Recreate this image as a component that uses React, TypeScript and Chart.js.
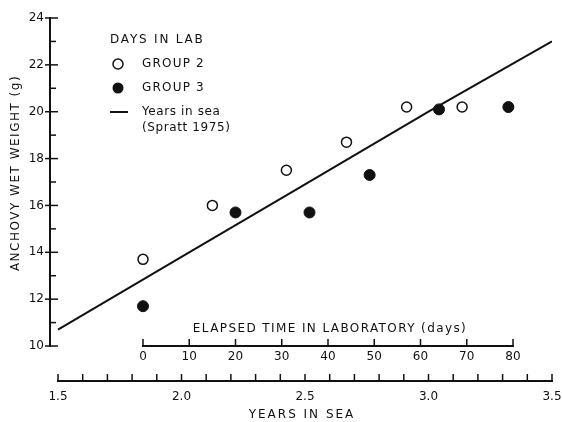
import { useEffect, useRef } from 'react';
import { Chart, registerables } from 'chart.js';

Chart.register(...registerables);

// ---- data ----
const groupTwoDays = [0, 15, 31, 44, 57, 69];
const groupTwoWeight = [13.7, 16.0, 17.5, 18.7, 20.2, 20.2];
const groupThreeDays = [0, 20, 36, 49, 64, 79];
const groupThreeWeight = [11.7, 15.7, 15.7, 17.3, 20.1, 20.2];
const sprattYears = [1.5, 2.0, 2.5, 3.0, 3.5];
const sprattWeight = [10.7, 13.8, 16.9, 20.0, 23.0];

const weightTicks = [10, 12, 14, 16, 18, 20, 22, 24];
const weightMinorTicks = [11, 13, 15, 17, 19, 21, 23];
const yearTicks = [1.5, 2.0, 2.5, 3.0, 3.5];
const yearMinorTicks = [1.6, 1.7, 1.8, 1.9, 2.1, 2.2, 2.3, 2.4, 2.6, 2.7, 2.8, 2.9, 3.1, 3.2, 3.3, 3.4];
const dayTicks = [0, 10, 20, 30, 40, 50, 60, 70, 80];

const yTitle = 'ANCHOVY WET WEIGHT (g)';
const xTitle = 'YEARS IN SEA';
const daysTitle = 'ELAPSED TIME IN LABORATORY (days)';
const legendTitle = 'DAYS IN LAB';
const legendGroup2 = 'GROUP 2';
const legendGroup3 = 'GROUP 3';
const legendLine1 = 'Years in sea';
const legendLine2 = '(Spratt 1975)';

const FONT = 'DejaVu Sans';
const INK = '#111';

const zeroPad = (s: any) => {
  s.paddingLeft = 0;
  s.paddingRight = 0;
  s.paddingTop = 0;
  s.paddingBottom = 0;
};

const axesPlugin = {
  id: 'paperAxes',
  afterDraw(chart: any) {
    const ctx = chart.ctx as CanvasRenderingContext2D;
    const { x, y, days } = chart.scales;
    const area = chart.chartArea;
    ctx.save();
    ctx.strokeStyle = INK;
    ctx.fillStyle = INK;
    ctx.lineCap = 'butt';

    // y axis
    const ax = Math.round(area.left);
    ctx.lineWidth = 2;
    ctx.beginPath();
    ctx.moveTo(ax, y.getPixelForValue(10) + 1);
    ctx.lineTo(ax, y.getPixelForValue(24) - 1);
    ctx.stroke();
    ctx.lineWidth = 1.5;
    weightTicks.forEach((v) => {
      const py = y.getPixelForValue(v);
      ctx.beginPath();
      ctx.moveTo(ax - 5, py);
      ctx.lineTo(ax + 8, py);
      ctx.stroke();
    });
    weightMinorTicks.forEach((v) => {
      const py = y.getPixelForValue(v);
      ctx.beginPath();
      ctx.moveTo(ax, py);
      ctx.lineTo(ax + 6, py);
      ctx.stroke();
    });

    // years axis
    const by = area.bottom;
    ctx.lineWidth = 2;
    ctx.beginPath();
    ctx.moveTo(x.getPixelForValue(1.5) - 1, by);
    ctx.lineTo(x.getPixelForValue(3.5) + 1, by);
    ctx.stroke();
    ctx.lineWidth = 1.5;
    [...yearTicks, ...yearMinorTicks].forEach((v) => {
      const px = x.getPixelForValue(v);
      ctx.beginPath();
      ctx.moveTo(px, by);
      ctx.lineTo(px, by - 7);
      ctx.stroke();
    });

    // days axis
    const dy = y.getPixelForValue(10);
    ctx.lineWidth = 2;
    ctx.beginPath();
    ctx.moveTo(days.getPixelForValue(0) - 1, dy);
    ctx.lineTo(days.getPixelForValue(80) + 1, dy);
    ctx.stroke();
    ctx.lineWidth = 1.5;
    dayTicks.forEach((v) => {
      const px = days.getPixelForValue(v);
      ctx.beginPath();
      ctx.moveTo(px, dy);
      ctx.lineTo(px, dy - 7);
      ctx.stroke();
    });

    // titles
    ctx.font = `12px "${FONT}"`;
    ctx.textBaseline = 'middle';
    ctx.textAlign = 'center';
    (ctx as any).letterSpacing = '2px';
    ctx.fillText(xTitle, 302, 415);
    (ctx as any).letterSpacing = '1.4px';
    ctx.fillText(daysTitle, 330, 329);
    ctx.save();
    ctx.translate(16, 173);
    ctx.rotate(-Math.PI / 2);
    (ctx as any).letterSpacing = '1.5px';
    ctx.fillText(yTitle, 0, 0);
    ctx.restore();

    // legend
    ctx.textAlign = 'left';
    (ctx as any).letterSpacing = '1.8px';
    ctx.fillText(legendTitle, 110, 40);
    (ctx as any).letterSpacing = '1.2px';
    ctx.fillText(legendGroup2, 142, 64);
    ctx.fillText(legendGroup3, 142, 88);
    (ctx as any).letterSpacing = '0.6px';
    ctx.fillText(legendLine1, 142, 112);
    ctx.fillText(legendLine2, 142, 128);
    ctx.lineWidth = 1.5;
    ctx.beginPath();
    ctx.arc(118, 64, 5, 0, Math.PI * 2);
    ctx.fillStyle = '#fff';
    ctx.fill();
    ctx.stroke();
    ctx.fillStyle = INK;
    ctx.beginPath();
    ctx.arc(118, 88, 5.5, 0, Math.PI * 2);
    ctx.fill();
    ctx.lineWidth = 2;
    ctx.beginPath();
    ctx.moveTo(110, 112);
    ctx.lineTo(128, 112);
    ctx.stroke();

    ctx.restore();
  },
};

export default function App() {
  const ref = useRef<HTMLCanvasElement | null>(null);

  useEffect(() => {
    document.body.style.margin = '0';
    const canvas = ref.current;
    if (!canvas) return;
    const tickFont = { family: FONT, size: 12 };
    const chart = new Chart(canvas, {
      type: 'scatter',
      data: {
        datasets: [
          {
            label: legendLine1,
            data: sprattYears.map((v, i) => ({ x: v, y: sprattWeight[i] })),
            xAxisID: 'x',
            yAxisID: 'y',
            showLine: true,
            borderColor: INK,
            borderWidth: 2,
            pointRadius: 0,
            fill: false,
            order: 2,
          },
          {
            label: legendGroup2,
            data: groupTwoDays.map((v, i) => ({ x: v, y: groupTwoWeight[i] })),
            xAxisID: 'days',
            yAxisID: 'y',
            backgroundColor: '#fff',
            borderColor: INK,
            borderWidth: 1.5,
            pointRadius: 5,
            order: 1,
          },
          {
            label: legendGroup3,
            data: groupThreeDays.map((v, i) => ({ x: v, y: groupThreeWeight[i] })),
            xAxisID: 'days',
            yAxisID: 'y',
            backgroundColor: INK,
            borderColor: INK,
            borderWidth: 1,
            pointRadius: 5.5,
            order: 1,
          },
        ],
      },
      options: {
        animation: false,
        responsive: false,
        devicePixelRatio: 1,
        layout: { padding: { top: 18, right: 10, bottom: 0, left: 0 } },
        plugins: { legend: { display: false }, tooltip: { enabled: false } },
        scales: {
          x: {
            type: 'linear',
            position: 'bottom',
            min: 1.5 - 8 / 247,
            max: 3.5,
            afterFit: (s: any) => { s.height = 41; zeroPad(s); },
            afterBuildTicks: (s: any) => { s.ticks = yearTicks.map((v) => ({ value: v })); },
            ticks: {
              font: tickFont,
              color: INK,
              padding: 9,
              maxRotation: 0,
              autoSkip: false,
              callback: (v: any) => Number(v).toFixed(1),
            },
            grid: { display: false, drawTicks: false },
            border: { display: false },
          },
          days: {
            type: 'linear',
            position: { y: 10 },
            min: (50 - 143) / 4.625,
            max: (552 - 143) / 4.625,
            afterFit: (s: any) => { zeroPad(s); },
            afterBuildTicks: (s: any) => { s.ticks = dayTicks.map((v) => ({ value: v })); },
            ticks: {
              font: tickFont,
              color: INK,
              padding: 4,
              maxRotation: 0,
              autoSkip: false,
            },
            grid: { display: false, drawTicks: false },
            border: { display: false },
          },
          y: {
            type: 'linear',
            position: 'left',
            min: 24 - (381 - 18) / 23.43,
            max: 24,
            afterFit: (s: any) => { s.width = 50; zeroPad(s); },
            afterBuildTicks: (s: any) => { s.ticks = weightTicks.map((v) => ({ value: v })); },
            ticks: {
              font: tickFont,
              color: INK,
              padding: 6,
              autoSkip: false,
            },
            grid: { display: false, drawTicks: false },
            border: { display: false },
          },
        },
      } as any,
      plugins: [axesPlugin],
    });
    return () => chart.destroy();
  }, []);

  return (
    <div style={{ width: 562, height: 422, background: '#fff' }}>
      <canvas ref={ref} width={562} height={422} style={{ display: 'block' }} />
    </div>
  );
}
